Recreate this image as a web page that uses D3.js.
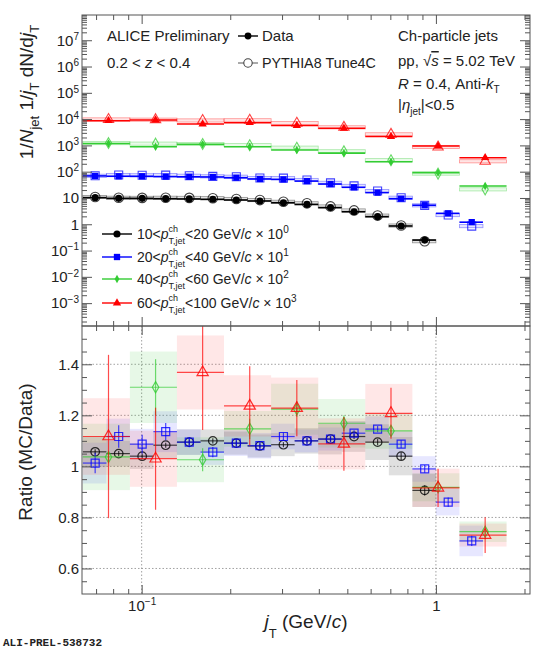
<!DOCTYPE html>
<html>
<head>
<meta charset="utf-8">
<script src="https://cdn.jsdelivr.net/npm/d3@7"></script>
<style>
  body { margin: 0; background: #fff; }
  text { font-family: "Liberation Sans", Arial, sans-serif; fill: #222; white-space: pre; }
</style>
</head>
<body>
<script>
// jT bin edges (GeV/c)
const fineEdges = [0.0631, 0.0759, 0.0912, 0.1096, 0.1318, 0.1585, 0.1905, 0.2291, 0.2754,
                   0.3311, 0.3981, 0.4786, 0.5754, 0.6918, 0.8318, 1.0, 1.202, 1.445];
const coarseEdges = [0.0631, 0.0912, 0.1318, 0.1905, 0.2754, 0.3981, 0.5754, 0.8318, 1.202, 1.738];

// data spectra (unscaled)
const spec10 = [10.3, 9.7, 9.7, 9.4, 9.2, 8.9, 8.4, 7.7, 6.6, 5.7, 4.3, 3.0, 1.95, 0.86, 0.25];
const spec20 = [6.9, 6.7, 6.7, 6.5, 6.4, 6.3, 5.9, 5.3, 5.1, 4.4, 3.4, 2.55, 1.6, 0.94, 0.53, 0.26, 0.12];
const spec40 = [11.8, 8.9, 11.0, 8.9, 6.7, 5.1, 2.4, 0.92, 0.286];
const spec60 = [8.7, 9.25, 6.5, 7.3, 5.7, 4.47, 2.18, 0.95, 0.34];

// MC / Data ratios, stat and sys errors
const ratio10 = [1.057, 1.05, 1.04, 1.083, 1.095, 1.10, 1.091, 1.08, 1.085, 1.10, 1.107, 1.117, 1.095, 1.04, 0.906];
const stat10  = [0.01, 0.01, 0.01, 0.01, 0.01, 0.01, 0.01, 0.01, 0.01, 0.01, 0.01, 0.01, 0.012, 0.015, 0.02];
const sys10   = [0.06, 0.05, 0.05, 0.05, 0.05, 0.045, 0.045, 0.045, 0.045, 0.05, 0.06, 0.06, 0.07, 0.075, 0.065];

const ratio20 = [1.013, 1.117, 1.087, 1.136, 1.095, 1.056, 1.091, 1.081, 1.117, 1.10, 1.107, 1.13, 1.146, 1.087, 0.99, 0.86, 0.708];
const stat20  = [0.04, 0.044, 0.037, 0.034, 0.02, 0.02, 0.015, 0.015, 0.015, 0.012, 0.012, 0.012, 0.012, 0.015, 0.015, 0.018, 0.02];
const sys20   = [0.08, 0.07, 0.06, 0.08, 0.05, 0.05, 0.05, 0.05, 0.05, 0.045, 0.045, 0.045, 0.05, 0.05, 0.05, 0.052, 0.06];

const ratio40 = [1.037, 1.31, 1.026, 1.147, 1.224, 1.169, 1.139, 0.918, 0.744];
const stat40  = [0.02, 0.11, 0.045, 0.04, 0.03, 0.03, 0.02, 0.012, 0.01];
const sys40   = [0.13, 0.14, 0.088, 0.07, 0.1, 0.095, 0.07, 0.055, 0.04];

const ratio60 = [1.117, 1.03, 1.368, 1.237, 1.228, 1.088, 1.208, 0.916, 0.731];
const stat60  = [0.32, 0.2, 0.225, 0.155, 0.11, 0.105, 0.1, 0.075, 0.07];
const sys60   = [0.15, 0.11, 0.145, 0.12, 0.12, 0.1, 0.115, 0.075, 0.045];

const legendRanges = [['10', '20', '0'], ['20', '40', '1'], ['40', '60', '2'], ['60', '100', '3']];
const topTickExp = [-3, -2, -1, 0, 1, 2, 3, 4, 5, 6, 7];
const ratioTicks = [0.6, 0.8, 1, 1.2, 1.4];
const xMajor = [0.1, 1];
const xMinor = [0.07, 0.08, 0.09, 0.2, 0.3, 0.4, 0.5, 0.6, 0.7, 0.8, 0.9, 2];

const series = [
  {edges: fineEdges.slice(0, 16), spec: spec10, scale: 1, ratio: ratio10, stat: stat10, sys: sys10,
   color: '#000000', box: 'rgba(100,100,100,0.2)', sym: d3.symbolCircle, fs: 40, os: 72, rs: 58},
  {edges: fineEdges, spec: spec20, scale: 10, ratio: ratio20, stat: stat20, sys: sys20,
   color: '#0000ff', box: 'rgba(70,70,255,0.13)', sym: d3.symbolSquare, fs: 40, os: 64, rs: 64},
  {edges: coarseEdges, spec: spec40, scale: 100, ratio: ratio40, stat: stat40, sys: sys40,
   color: '#33cc33', box: 'rgba(60,200,60,0.12)', sym: d3.symbolDiamond, fs: 20, os: 34, rs: 36},
  {edges: coarseEdges, spec: spec60, scale: 1000, ratio: ratio60, stat: stat60, sys: sys60,
   color: '#ff0000', box: 'rgba(255,70,70,0.13)', sym: d3.symbolTriangle, fs: 30, os: 46, rs: 55}
];

const W = 544, H = 650;
const L = 82, R = 530, T = 15, M = 326, B = 594;

const svg = d3.select('body').append('svg').attr('width', W).attr('height', H);

const x = d3.scaleLog().domain([0.0627, 2.088]).range([L, R]);
const yTop = d3.scaleLog().domain([Math.pow(10, -3.87), Math.pow(10, 7.96)]).range([M, T]);
const yR = d3.scaleLinear().domain([0.5, 1.55]).range([B, M]);

const defs = svg.append('defs');
defs.append('clipPath').attr('id', 'clipTop').append('rect').attr('x', L).attr('y', T).attr('width', R - L).attr('height', M - T);
defs.append('clipPath').attr('id', 'clipR').append('rect').attr('x', L).attr('y', M).attr('width', R - L).attr('height', B - M);

// rows for both panels
series.forEach(s => {
  s.rows = d3.pairs(s.edges).map((b, i) => ({
    lo: b[0], hi: b[1], xc: (b[0] + b[1]) / 2,
    d: s.spec[i] * s.scale, mc: s.spec[i] * s.scale * s.ratio[i],
    r: s.ratio[i], st: s.stat[i], sy: s.sys[i]
  }));
});

// ---------- top panel ----------
const topG = svg.append('g').attr('clip-path', 'url(#clipTop)');
series.forEach(s => {
  const g = topG.append('g');
  // MC band + line
  g.selectAll('rect.mc').data(s.rows).join('rect').attr('class', 'mc')
    .attr('x', d => x(d.lo)).attr('width', d => x(d.hi) - x(d.lo))
    .attr('y', d => yTop(d.mc) - 1.6).attr('height', 3.2)
    .attr('fill', s.color).attr('fill-opacity', 0.1)
    .attr('stroke', s.color).attr('stroke-opacity', 0.4).attr('stroke-width', 0.8);
  // data line
  g.selectAll('line.dat').data(s.rows).join('line').attr('class', 'dat')
    .attr('x1', d => x(d.lo)).attr('x2', d => x(d.hi))
    .attr('y1', d => yTop(d.d)).attr('y2', d => yTop(d.d))
    .attr('stroke', s.color).attr('stroke-width', 1.6);
  // MC open markers
  g.selectAll('path.mcm').data(s.rows).join('path').attr('class', 'mcm')
    .attr('d', d3.symbol(s.sym, s.os))
    .attr('transform', d => `translate(${x(d.xc)},${yTop(d.mc)})`)
    .attr('fill', 'none').attr('stroke', s.color).attr('stroke-width', 1.1).attr('stroke-opacity', 0.75);
  // data filled markers
  g.selectAll('path.dm').data(s.rows).join('path').attr('class', 'dm')
    .attr('d', d3.symbol(s.sym, s.fs))
    .attr('transform', d => `translate(${x(d.xc)},${yTop(d.d)})`)
    .attr('fill', s.color);
});

// ---------- ratio panel ----------
const grid = svg.append('g').attr('stroke', '#8a8a8a').attr('stroke-width', 0.8).attr('stroke-dasharray', '1.5,2');
ratioTicks.forEach(v => grid.append('line').attr('x1', L).attr('x2', R).attr('y1', yR(v)).attr('y2', yR(v)));
xMajor.forEach(v => grid.append('line').attr('x1', x(v)).attr('x2', x(v)).attr('y1', M).attr('y2', B));

const rat = svg.append('g').attr('clip-path', 'url(#clipR)');
series.forEach(s => {
  rat.append('g').selectAll('rect').data(s.rows).join('rect')
    .attr('x', d => x(d.lo)).attr('width', d => x(d.hi) - x(d.lo))
    .attr('y', d => yR(d.r + d.sy)).attr('height', d => yR(d.r - d.sy) - yR(d.r + d.sy))
    .attr('fill', s.box);
});
series.forEach(s => {
  const g = rat.append('g');
  g.selectAll('line.h').data(s.rows).join('line').attr('class', 'h')
    .attr('x1', d => x(d.lo)).attr('x2', d => x(d.hi))
    .attr('y1', d => yR(d.r)).attr('y2', d => yR(d.r))
    .attr('stroke', s.color).attr('stroke-width', 1.2).attr('stroke-opacity', 0.7);
  g.selectAll('line.v').data(s.rows).join('line').attr('class', 'v')
    .attr('x1', d => x(d.xc)).attr('x2', d => x(d.xc))
    .attr('y1', d => yR(d.r - d.st)).attr('y2', d => yR(d.r + d.st))
    .attr('stroke', s.color).attr('stroke-width', 1.2).attr('stroke-opacity', 0.7);
  g.selectAll('path').data(s.rows).join('path')
    .attr('d', d3.symbol(s.sym, s.rs))
    .attr('transform', d => `translate(${x(d.xc)},${yR(d.r)})`)
    .attr('fill', 'none').attr('stroke', s.color).attr('stroke-width', 1.2).attr('stroke-opacity', 0.8);
});

// ---------- frames and axes ----------
svg.append('rect').attr('x', L).attr('y', T).attr('width', R - L).attr('height', M - T)
  .attr('fill', 'none').attr('stroke', '#555');
svg.append('rect').attr('x', L).attr('y', M).attr('width', R - L).attr('height', B - M)
  .attr('fill', 'none').attr('stroke', '#555');

function styleAxis(g) {
  g.select('.domain').remove();
  g.selectAll('.tick line').attr('stroke', '#555');
  g.selectAll('.tick text').style('font-size', '15px').attr('fill', '#222');
}
function powLabels(g) {
  g.selectAll('.tick text').each(function (d) {
    const e = Math.round(Math.log10(d));
    const t = d3.select(this).text('');
    if (e === 0) t.text('1');
    else if (e === 1) t.text('10');
    else {
      t.append('tspan').text('10');
      t.append('tspan').attr('dy', '-0.55em').style('font-size', '10px').text(e < 0 ? '\u2212' + (-e) : e);
    }
  });
}

const topMajor = topTickExp.map(e => Math.pow(10, e));
const topMinor = [];
d3.range(-4, 8).forEach(e => { for (let m = 2; m <= 9; m++) { const v = m * Math.pow(10, e); if (v > yTop.domain()[0] && v < yTop.domain()[1]) topMinor.push(v); } });

// top panel y
svg.append('g').attr('transform', `translate(${L},0)`)
  .call(d3.axisLeft(yTop).tickValues(topMajor).tickSize(-10).tickPadding(3))
  .call(styleAxis).call(powLabels);
svg.append('g').attr('transform', `translate(${L},0)`)
  .call(d3.axisLeft(yTop).tickValues(topMinor).tickSize(-5).tickFormat(''))
  .call(styleAxis);
svg.append('g').attr('transform', `translate(${R},0)`)
  .call(d3.axisRight(yTop).tickValues(topMajor).tickSize(-10).tickFormat(''))
  .call(styleAxis);
svg.append('g').attr('transform', `translate(${R},0)`)
  .call(d3.axisRight(yTop).tickValues(topMinor).tickSize(-5).tickFormat(''))
  .call(styleAxis);

// ratio y
const ratioMinor = d3.range(0.55, 1.55, 0.05).filter(v => !ratioTicks.some(t => Math.abs(t - v) < 1e-6));
svg.append('g').attr('transform', `translate(${L},0)`)
  .call(d3.axisLeft(yR).tickValues(ratioTicks).tickSize(-10).tickPadding(3).tickFormat(d3.format('~g')))
  .call(styleAxis);
svg.append('g').attr('transform', `translate(${L},0)`)
  .call(d3.axisLeft(yR).tickValues(ratioMinor).tickSize(-5).tickFormat(''))
  .call(styleAxis);
svg.append('g').attr('transform', `translate(${R},0)`)
  .call(d3.axisRight(yR).tickValues(ratioTicks).tickSize(-10).tickFormat(''))
  .call(styleAxis);
svg.append('g').attr('transform', `translate(${R},0)`)
  .call(d3.axisRight(yR).tickValues(ratioMinor).tickSize(-5).tickFormat(''))
  .call(styleAxis);

// x ticks on all horizontal edges
[[T, 'top'], [M, 'bottom'], [M, 'top'], [B, 'bottom']].forEach(([yy, side]) => {
  const mk = side === 'top' ? d3.axisTop : d3.axisBottom;
  svg.append('g').attr('transform', `translate(0,${yy})`)
    .call(mk(x).tickValues(xMajor).tickSize(-9).tickFormat('')).call(styleAxis);
  svg.append('g').attr('transform', `translate(0,${yy})`)
    .call(mk(x).tickValues(xMinor).tickSize(-5).tickFormat('')).call(styleAxis);
});
svg.append('g').attr('transform', `translate(0,${B})`)
  .call(d3.axisBottom(x).tickValues(xMajor).tickSize(0).tickPadding(6))
  .call(styleAxis).call(powLabels);

// ---------- text helpers ----------
function rich(parent, x0, y0, parts, fs, anchor) {
  const g = parent.append('g');
  let cx = 0, pend = 0;
  parts.forEach(p => {
    const t = g.append('text').attr('x', cx).attr('y', p.dy || 0)
      .style('font-size', (p.fs || fs) + 'px')
      .style('font-style', p.it ? 'italic' : 'normal')
      .text(p.t.replace(/ /g, '\u00A0'));
    if (p.over) t.style('text-decoration', 'overline');
    const w = t.node().getComputedTextLength();
    if (p.stack) pend = w;
    else { cx += Math.max(w, pend); pend = 0; }
  });
  const sx = anchor === 'middle' ? x0 - cx / 2 : x0;
  g.attr('transform', `translate(${sx},${y0})`);
  return g;
}

// axis titles
const yt = svg.append('g').attr('transform', 'translate(33,92) rotate(-90)');
rich(yt, 0, 0, [
  {t: '1/'}, {t: 'N', it: true}, {t: 'jet', fs: 13, dy: 6}, {t: ' 1/'}, {t: 'j', it: true}, {t: 'T', fs: 13, dy: 6},
  {t: ' d'}, {t: 'N'}, {t: '/d'}, {t: 'j', it: true}, {t: 'T', fs: 13, dy: 6}
], 19, 'middle');
const rt = svg.append('g').attr('transform', 'translate(32,452) rotate(-90)');
rich(rt, 0, 0, [{t: 'Ratio (MC/Data)'}], 19, 'middle');
rich(svg, 306, 628, [{t: 'j', it: true}, {t: 'T', fs: 13, dy: 10}, {t: ' (GeV/'}, {t: 'c', it: true}, {t: ')'}], 19, 'middle');

// top-left labels
rich(svg, 107, 41, [{t: 'ALICE Preliminary'}], 15);
rich(svg, 107, 68, [{t: '0.2 < '}, {t: 'z', it: true}, {t: ' < 0.4'}], 15);

// data / MC legend
svg.append('line').attr('x1', 238).attr('x2', 258).attr('y1', 36).attr('y2', 36).attr('stroke', '#000').attr('stroke-width', 1.4);
svg.append('path').attr('d', d3.symbol(d3.symbolCircle, 36)).attr('transform', 'translate(248,36)').attr('fill', '#000');
rich(svg, 262, 41, [{t: 'Data'}], 15);
svg.append('line').attr('x1', 238).attr('x2', 258).attr('y1', 63).attr('y2', 63).attr('stroke', '#555').attr('stroke-width', 1);
svg.append('path').attr('d', d3.symbol(d3.symbolCircle, 56)).attr('transform', 'translate(248,63)')
  .attr('fill', '#fff').attr('stroke', '#444').attr('stroke-width', 1.1);
rich(svg, 262, 68, [{t: 'PYTHIA8 Tune4C'}], 14.3);

// right labels
rich(svg, 398, 41, [{t: 'Ch-particle jets'}], 15);
rich(svg, 398, 66, [{t: 'pp, \u221A'}, {t: 's', it: true, over: true}, {t: ' = 5.02 TeV'}], 15);
rich(svg, 398, 89, [{t: 'R', it: true}, {t: ' = 0.4, Anti-'}, {t: 'k', it: true}, {t: 'T', fs: 10, dy: 4}], 15);
rich(svg, 398, 110, [{t: '|'}, {t: '\u03B7', it: true}, {t: 'jet', fs: 10, dy: 5}, {t: '|<0.5'}], 15);

// spectrum legend
series.forEach((s, i) => {
  const yy = [234, 257, 279, 303][i];
  svg.append('line').attr('x1', 102).attr('x2', 132).attr('y1', yy).attr('y2', yy).attr('stroke', s.color).attr('stroke-width', 1.4);
  svg.append('path').attr('d', d3.symbol(s.sym, s.fs)).attr('transform', `translate(117,${yy})`).attr('fill', s.color);
  const r = legendRanges[i];
  rich(svg, 137, yy + 5, [
    {t: r[0] + '<'}, {t: 'p', it: true}, {t: 'ch', fs: 9, dy: -7, stack: true}, {t: 'T,jet', fs: 9, dy: 4.5},
    {t: '<' + r[1] + ' GeV/'}, {t: 'c', it: true}, {t: ' \u00D7 10'}, {t: r[2], fs: 10, dy: -6}
  ], 14);
});

// preliminary tag
svg.append('text').attr('x', 3).attr('y', 646)
  .style('font-family', '"Liberation Mono", "DejaVu Sans Mono", monospace')
  .style('font-size', '11px').style('font-weight', 'bold').attr('fill', '#aaa')
  .text('ALI-PREL-538732');
</script>
</body>
</html>
